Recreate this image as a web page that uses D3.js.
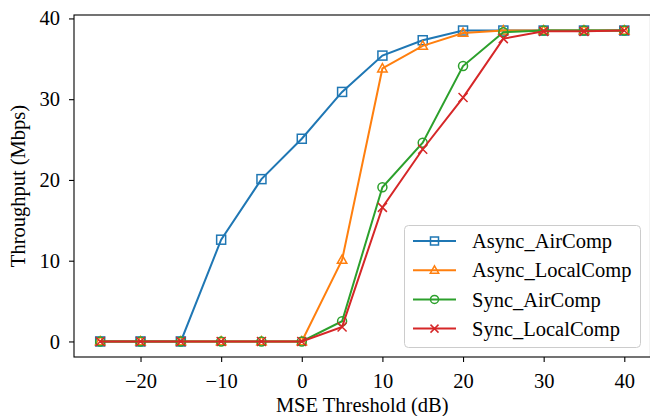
<!DOCTYPE html>
<html><head><meta charset="utf-8">
<script src="https://cdn.jsdelivr.net/npm/d3@7"></script>
<style>
body{margin:0;background:#fff;}
svg{display:block;}
text{font-family:"Liberation Serif","Times New Roman",serif;}
</style></head>
<body><svg id="c" width="650" height="416"></svg>
<script>
const thresholds = [-25,-20,-15,-10,-5,0,5,10,15,20,25,30,35,40];
const asyncAir   = [0,0,0,12.6,20.1,25.1,30.9,35.4,37.3,38.5,38.5,38.5,38.5,38.5];
const asyncLocal = [0,0,0,0,0,0,10.1,33.8,36.6,38.2,38.5,38.5,38.5,38.5];
const syncAir    = [0,0,0,0,0,0,2.5,19.1,24.6,34.1,38.3,38.5,38.5,38.5];
const syncLocal  = [0,0,0,0,0,0,1.8,16.6,23.8,30.2,37.5,38.4,38.4,38.5];
const seriesNames = ["Async_AirComp","Async_LocalComp","Sync_AirComp","Sync_LocalComp"];
const xTicks = [-20,-10,0,10,20,30,40];
const yTicks = [0,10,20,30,40];

const colors = ["#1f77b4","#ff7f0e","#2ca02c","#d62728"];
const markers = ["square","triangle","circle","x"];
const seriesVals = [asyncAir, asyncLocal, syncAir, syncLocal];

const L=74, R=650.5, T=15, B=357;
const x = d3.scaleLinear().domain([-28.25,43.25]).range([L,R]);
const y = d3.scaleLinear().domain([-1.925,40.425]).range([B,T]);
const svg = d3.select("#c");
const fs = 20.5;

function fmt(v){ return v<0 ? "\u2212"+Math.abs(v) : String(v); }

// axes
const xAxis = svg.append("g").attr("transform",`translate(0,${B})`)
  .call(d3.axisBottom(x).tickValues(xTicks).tickSize(5).tickPadding(11).tickFormat(fmt));
const yAxis = svg.append("g").attr("transform",`translate(${L},0)`)
  .call(d3.axisLeft(y).tickValues(yTicks).tickSize(5).tickPadding(9).tickFormat(fmt));
[xAxis,yAxis].forEach(a=>{
  a.select(".domain").remove();
  a.selectAll(".tick line").attr("stroke","#000").attr("stroke-width",1.1);
  a.selectAll(".tick text").attr("font-size",fs).attr("fill","#000")
   .style("font-family",'"Liberation Serif",serif');
});

// spines
svg.append("rect").attr("x",L).attr("y",T).attr("width",R-L).attr("height",B-T)
  .attr("fill","none").attr("stroke","#000").attr("stroke-width",1.1);

function marker(g, type, cx, cy, color, s){
  const h=s/2;
  if(type==="square") g.append("rect").attr("x",cx-h).attr("y",cy-h).attr("width",s).attr("height",s)
     .attr("fill","none").attr("stroke",color).attr("stroke-width",1.5);
  else if(type==="triangle") g.append("path")
     .attr("d",`M${cx},${cy-h*1.1}L${cx+h*1.05},${cy+h*0.75}L${cx-h*1.05},${cy+h*0.75}Z`)
     .attr("fill","none").attr("stroke",color).attr("stroke-width",1.5);
  else if(type==="circle") g.append("circle").attr("cx",cx).attr("cy",cy).attr("r",h)
     .attr("fill","none").attr("stroke",color).attr("stroke-width",1.5);
  else if(type==="x") g.append("path")
     .attr("d",`M${cx-h},${cy-h}L${cx+h},${cy+h}M${cx-h},${cy+h}L${cx+h},${cy-h}`)
     .attr("fill","none").attr("stroke",color).attr("stroke-width",1.5);
}

const line = d3.line().x((d,i)=>x(thresholds[i])).y(d=>y(d));
seriesVals.forEach((vals,k)=>{
  const g = svg.append("g");
  g.append("path").datum(vals).attr("d",line).attr("fill","none")
    .attr("stroke",colors[k]).attr("stroke-width",2);
  vals.forEach((v,i)=>marker(g,markers[k],x(thresholds[i]),y(v),colors[k],9));
});

// labels
svg.append("text").attr("x",(L+R)/2).attr("y",412).attr("text-anchor","middle")
  .attr("font-size",fs).text("MSE Threshold (dB)");
svg.append("text").attr("transform",`translate(25,${(T+B)/2}) rotate(-90)`)
  .attr("text-anchor","middle").attr("font-size",fs).text("Throughput (Mbps)");

// legend
const lg = svg.append("g");
lg.append("rect").attr("x",404.5).attr("y",225.5).attr("width",236).attr("height",122)
  .attr("rx",4).attr("fill","#fff").attr("fill-opacity",0.8).attr("stroke","#ccc").attr("stroke-width",1);
seriesNames.forEach((n,k)=>{
  const cy = 241 + k*29.2;
  lg.append("line").attr("x1",413).attr("x2",456).attr("y1",cy).attr("y2",cy)
    .attr("stroke",colors[k]).attr("stroke-width",2);
  marker(lg,markers[k],434.5,cy,colors[k],8);
  lg.append("text").attr("x",472).attr("y",cy).attr("dy","0.35em").attr("font-size",fs).text(n);
});
</script></body></html>
